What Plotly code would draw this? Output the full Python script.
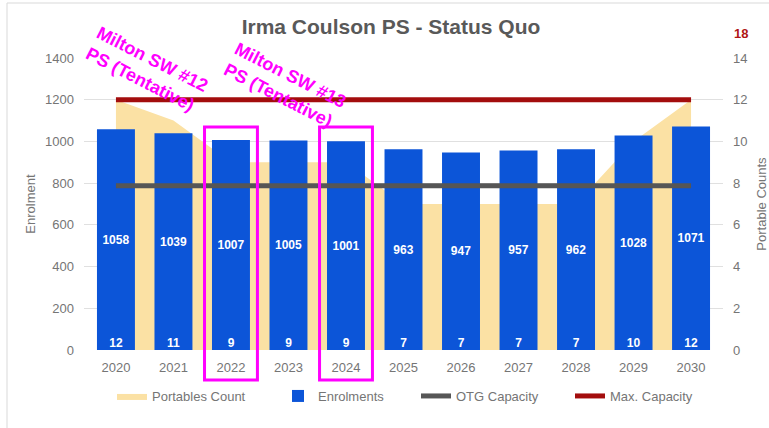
import plotly.graph_objects as go

years = ["2020", "2021", "2022", "2023", "2024", "2025", "2026", "2027", "2028", "2029", "2030"]
enrolments = [1058, 1039, 1007, 1005, 1001, 963, 947, 957, 962, 1028, 1071]
portables = [12, 11, 9, 9, 9, 7, 7, 7, 7, 10, 12]
otg_capacity = [788] * 11
max_capacity = [1200] * 11
highlight_years = ["2022", "2024"]
notes = ["Milton SW #12<br>PS (Tentative)", "Milton SW #13<br>PS (Tentative)"]

FONT = "Liberation Sans, Arial, sans-serif"
GRAY = "#757575"

L, R, T, B = 84, 46, 58, 78
PW = 769 - L - R
PH = 428 - T - B


def px(x):
    return (x - L) / PW


def py(y):
    return (428 - B - y) / PH


fig = go.Figure()

fig.add_trace(go.Scatter(
    x=years, y=portables, name="Portables Count", mode="lines",
    fill="tozeroy", fillcolor="#fbe1a4", line=dict(width=0, color="#fbe1a4"),
    yaxis="y", hoverinfo="skip", legend="legend"))

fig.add_trace(go.Bar(
    x=years, y=enrolments, name="Enrolments", marker=dict(color="#0c55d8", line=dict(width=0)),
    text=[str(v) for v in enrolments], textposition="inside", insidetextanchor="middle",
    textfont=dict(color="white", size=12, family=FONT, weight="bold"),
    textangle=0, yaxis="y2", legend="legend2"))

fig.add_trace(go.Scatter(
    x=years, y=[0] * len(years), mode="text", text=[str(v) for v in portables],
    textposition="top center", textfont=dict(color="white", size=12, family=FONT, weight="bold"),
    showlegend=False, yaxis="y2", hoverinfo="skip"))

fig.add_trace(go.Scatter(
    x=years, y=otg_capacity, name="OTG Capacity", mode="lines",
    line=dict(color="#565656", width=5), yaxis="y2", legend="legend3"))

fig.add_trace(go.Scatter(
    x=years, y=max_capacity, name="Max. Capacity", mode="lines",
    line=dict(color="#a30d0d", width=5), yaxis="y2", legend="legend4"))

shapes = []
for yr in highlight_years:
    i = years.index(yr)
    shapes.append(dict(type="rect", xref="x", yref="paper", x0=i - 0.46, x1=i + 0.46,
                       y0=py(380), y1=py(127), line=dict(color="#ff00ff", width=3),
                       fillcolor="rgba(0,0,0,0)", layer="above"))
shapes.append(dict(type="line", xref="paper", yref="paper", x0=px(7), x1=px(769),
                   y0=py(3), y1=py(3), line=dict(color="#d9d9d9", width=1)))
shapes.append(dict(type="line", xref="paper", yref="paper", x0=px(7), x1=px(7),
                   y0=py(3), y1=py(428), line=dict(color="#d9d9d9", width=1)))

annotations = [
    dict(text=notes[0], xref="paper", yref="paper", x=px(80), y=py(20),
         showarrow=False, textangle=27, font=dict(color="#ff00ff", size=18, family=FONT, weight="bold"),
         align="left"),
    dict(text=notes[1], xref="paper", yref="paper", x=px(218), y=py(36),
         showarrow=False, textangle=27, font=dict(color="#ff00ff", size=18, family=FONT, weight="bold"),
         align="left"),
    dict(text="18", xref="paper", yref="paper", x=px(750), y=py(24),
         showarrow=False, font=dict(color="#b01515", size=13, family=FONT, weight="bold")),
]

leg_common = dict(orientation="h", y=py(396), yanchor="middle", xanchor="left",
                  font=dict(size=13, color=GRAY), itemwidth=30, bgcolor="rgba(0,0,0,0)")

fig.update_layout(
    width=769, height=428,
    margin=dict(l=L, r=R, t=T, b=B, autoexpand=False),
    paper_bgcolor="white", plot_bgcolor="white",
    title=dict(text="Irma Coulson PS - Status Quo", x=391 / 769, xanchor="center",
               y=1 - 27 / 428, yanchor="middle",
               font=dict(size=21, color="#595959", family=FONT, weight="bold")),
    font=dict(family=FONT, color=GRAY, size=13),
    bargap=0.34,
    showlegend=True,
    legend=dict(x=px(120 - 8), **leg_common),
    legend2=dict(x=px(286 - 8), **leg_common),
    legend3=dict(x=px(421 - 5), **leg_common),
    legend4=dict(x=px(575 - 5), **leg_common),
    xaxis=dict(type="category", showgrid=False, ticks="", tickfont=dict(size=13, color=GRAY),
               showline=False, ticklabelstandoff=8),
    yaxis=dict(range=[0, 14], dtick=2, side="right", showgrid=True, gridcolor="#e0e0e0",
               zeroline=False, tickfont=dict(size=13, color=GRAY), ticklabelstandoff=9,
               title=dict(text="Portable Counts", font=dict(size=13, color=GRAY), standoff=14)),
    yaxis2=dict(range=[0, 1400], dtick=200, side="left", overlaying="y", showgrid=False,
                zeroline=False, tickfont=dict(size=13, color=GRAY), ticklabelstandoff=9,
                title=dict(text="Enrolment", font=dict(size=13, color=GRAY), standoff=6)),
    shapes=shapes,
    annotations=annotations,
)

fig.write_html("out.html", config={"displayModeBar": False},
               post_script="document.body.style.margin='0';document.body.style.overflow='hidden';")
